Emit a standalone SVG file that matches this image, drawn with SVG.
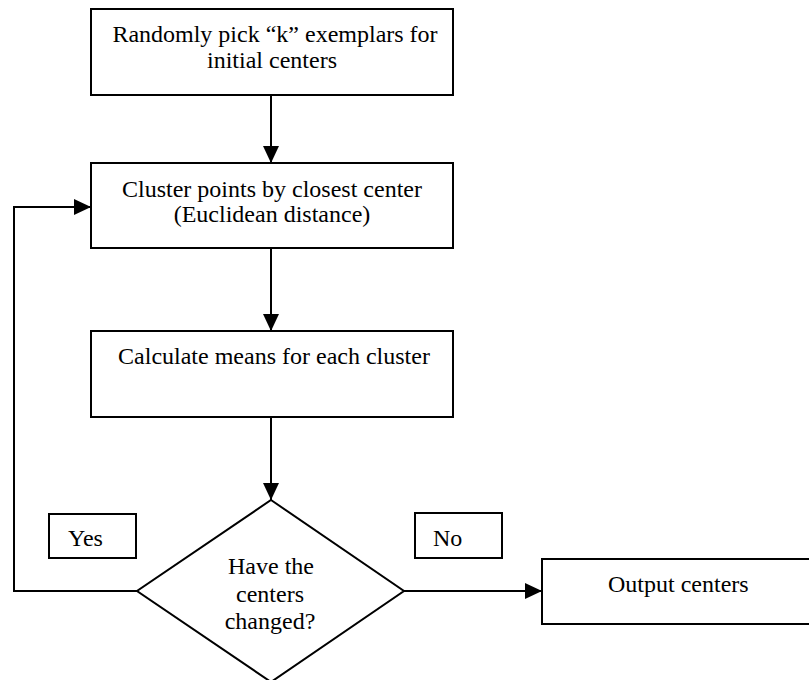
<svg xmlns="http://www.w3.org/2000/svg" width="809" height="680" viewBox="0 0 809 680">
<style>
.box{fill:#fff;stroke:#000;stroke-width:2}
.t{font-family:"Liberation Serif","Times New Roman",serif;font-size:24px;fill:#000}
.c{text-anchor:middle}
.ln{fill:none;stroke:#000;stroke-width:2}
</style>
<defs>
<marker id="ah" markerUnits="userSpaceOnUse" markerWidth="18" markerHeight="18" refX="17" refY="8" orient="auto" viewBox="0 0 18 16">
<path d="M0,0 L17,8 L0,16 Z" fill="#000"/>
</marker>
</defs>
<rect width="809" height="680" fill="#fff"/>
<g id="connectors">
<line class="ln" x1="271" y1="95" x2="271" y2="163" marker-end="url(#ah)"/>
<line class="ln" x1="271" y1="248" x2="271" y2="331" marker-end="url(#ah)"/>
<line class="ln" x1="271" y1="417" x2="271" y2="500" marker-end="url(#ah)"/>
<line class="ln" x1="404" y1="591" x2="542" y2="591" marker-end="url(#ah)"/>
<polyline class="ln" points="137,591 14,591 14,207 91,207" marker-end="url(#ah)"/>
</g>
<g id="n1">
<rect class="box" x="91" y="9" width="362" height="86"/>
<text class="t c" x="275" y="42">Randomly pick “k” exemplars for</text>
<text class="t c" x="272" y="68">initial centers</text>
</g>
<g id="n2">
<rect class="box" x="91" y="163" width="362" height="85"/>
<text class="t c" x="272" y="197">Cluster points by closest center</text>
<text class="t c" x="272" y="222">(Euclidean distance)</text>
</g>
<g id="n3">
<rect class="box" x="91" y="331" width="362" height="86"/>
<text class="t c" x="274" y="364">Calculate means for each cluster</text>
</g>
<g id="n4">
<polygon class="box" points="271,500 404,591 271,682 137,591"/>
<text class="t c" x="271" y="574">Have the</text>
<text class="t c" x="270" y="602">centers</text>
<text class="t c" x="270" y="629">changed?</text>
</g>
<g id="yes">
<rect class="box" x="49" y="514" width="87" height="44"/>
<text class="t" x="68" y="546">Yes</text>
</g>
<g id="no">
<rect class="box" x="415" y="513" width="87" height="45"/>
<text class="t" x="433" y="546">No</text>
</g>
<g id="n5">
<rect class="box" x="542" y="559" width="280" height="65"/>
<text class="t" x="608" y="592">Output centers</text>
</g>
</svg>
